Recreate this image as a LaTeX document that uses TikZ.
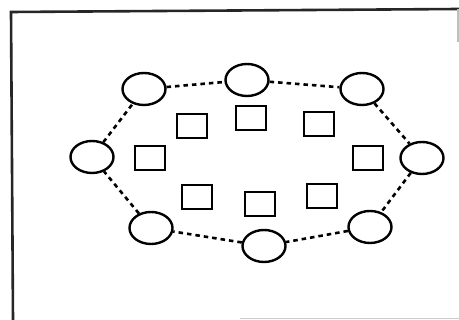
\documentclass[tikz,border=0pt]{standalone}
\usetikzlibrary{shapes.geometric}
\begin{document}
\begin{tikzpicture}[x=1pt,y=-1pt,
  ring/.style={draw, ellipse, line width=2.4pt, inner sep=0pt,
    minimum width=43pt, minimum height=32pt},
  cell/.style={draw, rectangle, line width=2.2pt, inner sep=0pt,
    minimum width=30pt, minimum height=24pt},
  link/.style={line width=2.6pt, dash pattern=on 4.5pt off 4pt},
  frame/.style={line width=2.6pt, black!85}]
\useasboundingbox (0,0) rectangle (459,320);

% outer frame
\draw[frame] (13,320) -- (11,12) -- (459,9);
\draw[line width=1.2pt, black!25] (458,9) -- (458,42);
\draw[line width=1.6pt, black!20] (240,318.5) -- (459,318.5);

% ring of circles
\node[ring] (c1) at (144,89) {};
\node[ring] (c2) at (247,80) {};
\node[ring] (c3) at (362,89) {};
\node[ring] (c4) at (422,158) {};
\node[ring] (c5) at (370,227) {};
\node[ring] (c6) at (264,246) {};
\node[ring] (c7) at (151,228) {};
\node[ring] (c8) at (92,157) {};

% inner squares
\node[cell] (s1) at (192,126) {};
\node[cell] (s2) at (251,118) {};
\node[cell] (s3) at (319,124) {};
\node[cell] (s4) at (368,158) {};
\node[cell] (s5) at (322,196) {};
\node[cell] (s6) at (260,204) {};
\node[cell] (s7) at (197,197) {};
\node[cell] (s8) at (150,158) {};

% dotted links around the ring
\draw[link] (c1) -- (c2);
\draw[link] (c2) -- (c3);
\draw[link] (c3) -- (c4);
\draw[link] (c4) -- (c5);
\draw[link] (c5) -- (c6);
\draw[link] (c6) -- (c7);
\draw[link] (c7) -- (c8);
\draw[link] (c8) -- (c1);
\end{tikzpicture}
\end{document}
